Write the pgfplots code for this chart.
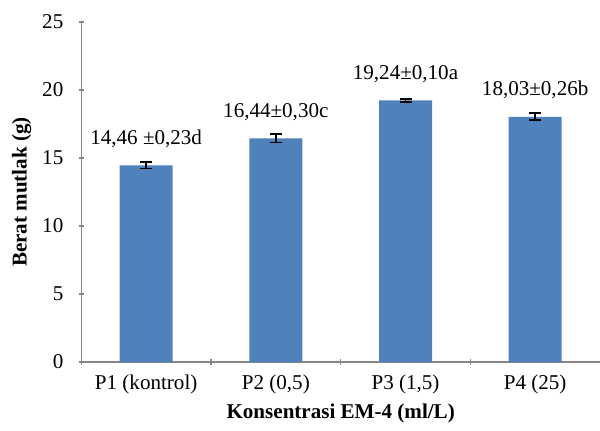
\documentclass[border=0pt]{standalone}
\usepackage{pgfplots}
\usepackage{pgfplotstable}
\pgfplotsset{compat=1.18}
\usepackage{fontspec}
\setmainfont{Liberation Serif}
\definecolor{barblue}{HTML}{4F81BD}
\definecolor{axgray}{HTML}{868686}
\pgfplotstableread[col sep=semicolon]{
x;y;err;lab
0;14.46;0.23;14,46 ±0,23d
1;16.44;0.30;16,44±0,30c
2;19.24;0.10;19,24±0,10a
3;18.03;0.26;18,03±0,26b
}\datatable
\begin{document}
\begin{tikzpicture}
\begin{axis}[
  scale only axis,
  width=389pt, height=255pt,
  xmin=-0.5, xmax=3.5,
  ymin=0, ymax=25,
  ytick={0,5,10,15,20,25},
  xtick={0,1,2,3},
  xticklabels={{P1 (kontrol)},{P2 (0,5)},{P3 (1,5)},{P4 (25)}},
  minor xtick={-0.5,0.5,1.5,2.5},
  major x tick style={draw=none},
  tick align=outside,
  major tick length=4pt,
  minor tick length=4pt,
  every tick/.style={axgray, line width=0.8pt},
  axis x line=bottom, axis y line=left,
  axis line style={-, axgray, line width=0.8pt},
  tick label style={font=\fontsize{15.8}{18}\selectfont, black},
  /pgf/number format/assume math mode=true,
  ylabel={\textbf{Berat mutlak (g)}},
  xlabel={\textbf{Konsentrasi EM-4 (ml/L)}},
  label style={font=\fontsize{15.8}{18}\selectfont},
  ylabel style={at={(axis description cs:0,0.5)}, anchor=south, yshift=34pt},
  xlabel style={at={(axis description cs:0.5,0)}, anchor=north, yshift=-28pt},
  yticklabel style={xshift=-8pt},
  xticklabel style={yshift=-4pt},
  clip=false,
]
\addplot[ybar, bar width=39.75pt, fill=barblue, draw=none,
  error bars/.cd, y dir=both, y explicit,
  error bar style={black, line width=1.4pt},
  error mark options={rotate=90, mark size=4.5pt, black, line width=1.4pt},
  ] table[x=x, y=y, y error=err] {\datatable};
\addplot[only marks, mark=none, point meta=explicit symbolic,
  nodes near coords,
  nodes near coords style={anchor=south, inner sep=0pt, yshift=13pt, font=\fontsize{15.8}{18}\selectfont, black},
  ] table[x=x, y=y, meta=lab] {\datatable};
\end{axis}
\pgfresetboundingbox
\path ([shift={(-61pt,-51pt)}]current axis.south west) rectangle ([shift={(0pt,16.5pt)}]current axis.north east);
\end{tikzpicture}
\end{document}
